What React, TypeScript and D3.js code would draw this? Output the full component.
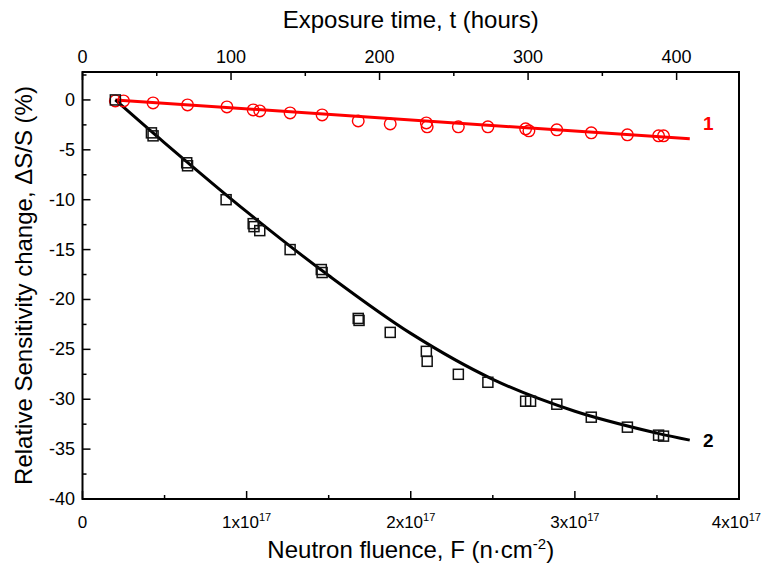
import React from 'react';
import * as d3 from 'd3';

// fluence in units of 1e17 n/cm^2, change in %
const fluence1 = [0.2, 0.25, 0.43, 0.64, 0.88, 1.04, 1.08, 1.265, 1.46, 1.68, 1.875, 2.095, 2.1, 2.29, 2.47, 2.7, 2.72, 2.89, 3.1, 3.32, 3.51, 3.54];
const change1 = [-0.1, -0.1, -0.3, -0.5, -0.7, -1.0, -1.1, -1.3, -1.5, -2.1, -2.4, -2.3, -2.7, -2.7, -2.7, -2.9, -3.1, -3.0, -3.3, -3.5, -3.6, -3.6];

const fluence2 = [0.2, 0.42, 0.43, 0.635, 0.64, 0.875, 1.04, 1.045, 1.08, 1.265, 1.455, 1.46, 1.68, 1.685, 1.875, 2.095, 2.1, 2.29, 2.47, 2.7, 2.73, 2.89, 3.1, 3.32, 3.51, 3.54];
const change2 = [0, -3.3, -3.6, -6.3, -6.6, -10.0, -12.4, -12.7, -13.1, -15.0, -17.0, -17.3, -21.9, -22.1, -23.3, -25.2, -26.2, -27.5, -28.3, -30.2, -30.2, -30.5, -31.8, -32.8, -33.6, -33.7];

// fitted curves
const fit1X = [0.2, 3.7];
const fit1Y = [0, -3.9];
const fit2X = [0.2, 0.5, 1.0, 1.5, 2.0, 2.5, 3.0, 3.5, 3.7];
const fit2Y = [0, -4.3, -11.2, -17.6, -23.4, -28.0, -31.2, -33.4, -34.1];

const bottomTicks = [0, 1, 2, 3, 4];
const topTicks = [0, 100, 200, 300, 400];
const leftTicks = [0, -5, -10, -15, -20, -25, -30, -35, -40];

const font = 'Liberation Sans, Arial, sans-serif';

export default function App() {
  const W = 762, H = 567;
  const x = d3.scaleLinear().domain([0, 4]).range([82.5, 739]);
  const xTop = d3.scaleLinear().domain([0, 442]).range([82.5, 739]);
  const y = d3.scaleLinear().domain([-40, 2.8]).range([499, 72]);
  const [x0, x1] = x.range();
  const [yb, yt] = y.range();

  const line = d3.line<[number, number]>().x(d => x(d[0])).y(d => y(d[1]));
  const fit1 = line(fit1X.map((v, i) => [v, fit1Y[i]]));
  const fit2 = line.curve(d3.curveCatmullRom)(fit2X.map((v, i) => [v, fit2Y[i]]));

  const minorBottom = d3.range(0.5, 4, 1);
  const minorTop = d3.range(50, 442, 100);
  const minorLeft = d3.range(-37.5, 2.6, 5);

  return (
    <svg width={W} height={H} style={{ position: 'absolute', left: 0, top: 0, background: '#fff' }} fontFamily={font}>
      {/* fit lines */}
      <path d={fit1 || ''} fill="none" stroke="#ff0000" strokeWidth={3} />
      <path d={fit2 || ''} fill="none" stroke="#000" strokeWidth={3} />

      {/* points */}
      {fluence1.map((f, i) => (
        <circle key={'c' + i} cx={x(f)} cy={y(change1[i])} r={5.8} fill="none" stroke="#ff0000" strokeWidth={1.4} />
      ))}
      {fluence2.map((f, i) => (
        <rect key={'s' + i} x={x(f) - 5} y={y(change2[i]) - 5} width={10} height={10} fill="none" stroke="#111" strokeWidth={1.5} />
      ))}

      {/* frame */}
      <rect x={x0} y={yt} width={x1 - x0} height={yb - yt} fill="none" stroke="#000" strokeWidth={2} />

      {/* bottom axis */}
      {bottomTicks.map(t => (
        <line key={'bt' + t} x1={x(t)} x2={x(t)} y1={yb} y2={yb - 8} stroke="#000" strokeWidth={1.5} />
      ))}
      {minorBottom.map(t => (
        <line key={'bm' + t} x1={x(t)} x2={x(t)} y1={yb} y2={yb - 4} stroke="#000" strokeWidth={1.5} />
      ))}
      {bottomTicks.map(t => (
        <text key={'bl' + t} x={t === 4 ? 761 : x(t)} y={528} fontSize={17} textAnchor={t === 4 ? 'end' : 'middle'}>
          {t === 0 ? '0' : (
            <>{t}x10<tspan dy={-7} fontSize={11}>17</tspan></>
          )}
        </text>
      ))}
      <text x={(x0 + x1) / 2} y={558} fontSize={24} textAnchor="middle">
        Neutron fluence, F (n·cm<tspan dy={-9} fontSize={15}>-2</tspan><tspan dy={9}>)</tspan>
      </text>

      {/* top axis */}
      {topTicks.map(t => (
        <line key={'tt' + t} x1={xTop(t)} x2={xTop(t)} y1={yt} y2={yt + 8} stroke="#000" strokeWidth={1.5} />
      ))}
      {minorTop.map(t => (
        <line key={'tm' + t} x1={xTop(t)} x2={xTop(t)} y1={yt} y2={yt + 4} stroke="#000" strokeWidth={1.5} />
      ))}
      {topTicks.map(t => (
        <text key={'tl' + t} x={xTop(t)} y={63} fontSize={18} textAnchor="middle">{t}</text>
      ))}
      <text x={(x0 + x1) / 2} y={28} fontSize={24} textAnchor="middle">Exposure time, t (hours)</text>

      {/* left axis */}
      {leftTicks.map(t => (
        <line key={'lt' + t} x1={x0} x2={x0 + 8} y1={y(t)} y2={y(t)} stroke="#000" strokeWidth={1.5} />
      ))}
      {minorLeft.map(t => (
        <line key={'lm' + t} x1={x0} x2={x0 + 4} y1={y(t)} y2={y(t)} stroke="#000" strokeWidth={1.5} />
      ))}
      {leftTicks.map(t => (
        <text key={'ll' + t} x={75} y={y(t) + 6} fontSize={18} textAnchor="end">{t}</text>
      ))}
      <text transform={`translate(32,${(yt + yb) / 2}) rotate(-90)`} fontSize={24} textAnchor="middle">
        Relative Sensitivity change, ΔS/S (%)
      </text>

      {/* series labels */}
      <text x={703} y={y(-2.3) + 7} fontSize={19} fontWeight="bold" fill="#ff0000">1</text>
      <text x={703} y={y(-34.1) + 7} fontSize={19} fontWeight="bold" fill="#000">2</text>
    </svg>
  );
}
